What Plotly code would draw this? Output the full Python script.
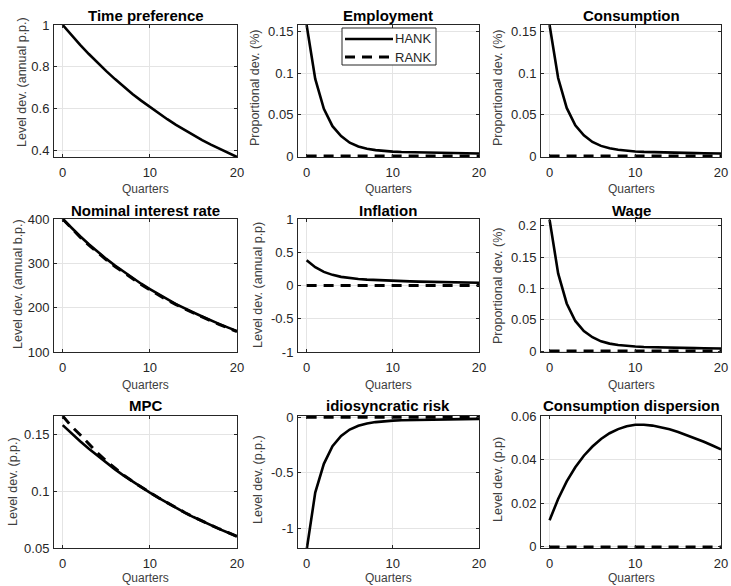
import plotly.graph_objects as go

# ---------------- data ----------------
quarters = list(range(21))

time_pref_hank = [1.000, 0.951, 0.905, 0.861, 0.819, 0.779, 0.741, 0.705, 0.670, 0.638, 0.607,
                  0.577, 0.549, 0.522, 0.497, 0.472, 0.449, 0.427, 0.407, 0.387, 0.368]

employment_hank = [0.158, 0.093, 0.057, 0.036, 0.024, 0.016, 0.0115, 0.0088, 0.0071, 0.0060, 0.0053,
                   0.0048, 0.0045, 0.0042, 0.0040, 0.0038, 0.0036, 0.0034, 0.0033, 0.0031, 0.0030]
employment_rank = [0.0] * 21

consumption_hank = [0.158, 0.094, 0.058, 0.037, 0.025, 0.017, 0.0122, 0.0093, 0.0075, 0.0063, 0.0055,
                    0.0050, 0.0046, 0.0043, 0.0041, 0.0039, 0.0037, 0.0035, 0.0034, 0.0032, 0.0031]
consumption_rank = [0.0] * 21

nominal_hank = [400, 380, 361, 343, 326, 310, 295, 281, 267, 254, 242,
                230, 219, 208, 198, 189, 180, 171, 163, 155, 147]
nominal_rank = [400, 379, 359, 341, 324, 308, 293, 279, 265, 252, 240,
                228, 217, 207, 197, 188, 179, 170, 162, 154, 146]

inflation_hank = [0.38, 0.275, 0.205, 0.160, 0.130, 0.110, 0.097, 0.088, 0.081, 0.075, 0.070,
                  0.066, 0.062, 0.059, 0.056, 0.053, 0.050, 0.048, 0.046, 0.044, 0.042]
inflation_rank = [0.0] * 21

wage_hank = [0.210, 0.124, 0.076, 0.048, 0.032, 0.022, 0.0155, 0.0118, 0.0095, 0.0080, 0.0071,
             0.0064, 0.0059, 0.0056, 0.0053, 0.0050, 0.0048, 0.0046, 0.0044, 0.0042, 0.0040]
wage_rank = [0.0] * 21

mpc_hank = [0.1580, 0.1507, 0.1438, 0.1372, 0.1309, 0.1249, 0.1191, 0.1136, 0.1084, 0.1034, 0.0987,
            0.0940, 0.0895, 0.0852, 0.0811, 0.0772, 0.0735, 0.0700, 0.0666, 0.0634, 0.0603]
mpc_rank = [0.1660, 0.1570, 0.1495, 0.1415, 0.1335, 0.1265, 0.1200, 0.1140, 0.1086, 0.1035, 0.0988,
            0.0941, 0.0896, 0.0853, 0.0812, 0.0773, 0.0736, 0.0701, 0.0667, 0.0635, 0.0602]

idio_hank = [-1.20, -0.68, -0.42, -0.26, -0.168, -0.110, -0.076, -0.055, -0.043, -0.035, -0.030,
             -0.027, -0.025, -0.023, -0.021, -0.020, -0.018, -0.017, -0.016, -0.015, -0.014]
idio_rank = [0.0] * 21

disp_hank = [0.0122, 0.0220, 0.0300, 0.0365, 0.0418, 0.0460, 0.0495, 0.0521, 0.0540, 0.0553, 0.0560,
             0.0560, 0.0556, 0.0549, 0.0539, 0.0527, 0.0513, 0.0498, 0.0482, 0.0465, 0.0447]
disp_rank = [0.0] * 21

titles = ["Time preference", "Employment", "Consumption",
          "Nominal interest rate", "Inflation", "Wage",
          "MPC", "idiosyncratic risk", "Consumption dispersion"]
y_titles = ["Level dev. (annual p.p.)", "Proportional dev. (%)", "Proportional dev. (%)",
            "Level dev. (annual b.p.)", "Level dev. (annual p.p)", "Proportional dev. (%)",
            "Level dev. (p.p.)", "Level dev. (p.p.)", "Level dev. (p.p)"]
x_title = "Quarters"
x_ticks = [0, 10, 20]
legend_names = ["HANK", "RANK"]

y_tickvals = [[0.4, 0.6, 0.8, 1], [0, 0.05, 0.1, 0.15], [0, 0.05, 0.1, 0.15],
              [100, 200, 300, 400], [-1, -0.5, 0, 0.5, 1], [0, 0.05, 0.1, 0.15, 0.2],
              [0.05, 0.1, 0.15], [-1, -0.5, 0], [0, 0.02, 0.04, 0.06]]
y_ticktext = [["0.4", "0.6", "0.8", "1"], ["0", "0.05", "0.1", "0.15"], ["0", "0.05", "0.1", "0.15"],
              ["100", "200", "300", "400"], ["-1", "-0.5", "0", "0.5", "1"],
              ["0", "0.05", "0.1", "0.15", "0.2"],
              ["0.05", "0.1", "0.15"], ["-1", "-0.5", "0"], ["0", "0.02", "0.04", "0.06"]]

hank_series = [time_pref_hank, employment_hank, consumption_hank,
               nominal_hank, inflation_hank, wage_hank,
               mpc_hank, idio_hank, disp_hank]
rank_series = [None, employment_rank, consumption_rank,
               nominal_rank, inflation_rank, wage_rank,
               mpc_rank, idio_rank, disp_rank]

# ---------------- layout / style ----------------
W, H = 731, 586
cols_px = [(54, 237), (298, 479), (541, 721)]
rows_px = [(25, 157), (219, 352), (416, 548)]
y_ranges = [[0.368, 1.0], [-0.0012, 0.158], [-0.0012, 0.158],
            [100, 400], [-1, 1], [-0.0016, 0.211],
            [0.05, 0.166], [-1.18, 0.012], [-0.0005, 0.06]]
ytitle_x_px = [22, 255, 498, 18, 258, 498, 13, 258, 498]
ytitle_y_px = [82, 88, 88, 284, 285, 286, 482, 480, 480]
title_y_px = [15, 15, 15, 210, 210, 210, 405, 405, 405]
xtitle_y_px = [189, 189, 189, 385, 385, 385, 578, 578, 578]

FONT = "Liberation Sans, Arial, Helvetica, sans-serif"
AX_COL = "#262626"
GRID_COL = "#e4e4e4"
HANK_W, RANK_W, RANK_DASH = 2.6, 3, "10px,7px"

fig = go.Figure()
annotations = []
shapes = []
layout_axes = {}

for i in range(9):
    r, c = divmod(i, 3)
    n = "" if i == 0 else str(i + 1)
    xa, ya = "x" + n, "y" + n
    x0, x1 = cols_px[c]
    y0, y1 = rows_px[r]
    layout_axes["xaxis" + n] = dict(
        domain=[x0 / W, x1 / W], anchor=ya, range=[-1, 20], automargin=False,
        tickmode="array", tickvals=x_ticks, ticktext=[str(t) for t in x_ticks],
        showline=True, mirror="ticks", linecolor=AX_COL, linewidth=1,
        ticks="inside", ticklen=3, tickcolor=AX_COL,
        showgrid=True, gridcolor=GRID_COL, gridwidth=1, zeroline=False,
        tickfont=dict(family=FONT, size=13, color=AX_COL), ticklabelstandoff=3,
    )
    layout_axes["yaxis" + n] = dict(
        domain=[1 - y1 / H, 1 - y0 / H], anchor=xa, range=y_ranges[i], automargin=False,
        tickmode="array", tickvals=y_tickvals[i], ticktext=y_ticktext[i],
        showline=True, mirror="ticks", linecolor=AX_COL, linewidth=1,
        ticks="inside", ticklen=3, tickcolor=AX_COL,
        showgrid=True, gridcolor=GRID_COL, gridwidth=1, zeroline=False,
        tickfont=dict(family=FONT, size=13, color=AX_COL), ticklabelstandoff=1,
    )
    fig.add_trace(go.Scatter(
        x=quarters, y=hank_series[i], xaxis=xa, yaxis=ya, mode="lines",
        line=dict(color="black", width=HANK_W), name=legend_names[0],
        showlegend=False, hoverinfo="skip"))
    if rank_series[i] is not None:
        fig.add_trace(go.Scatter(
            x=quarters, y=rank_series[i], xaxis=xa, yaxis=ya, mode="lines",
            line=dict(color="black", width=RANK_W, dash=RANK_DASH), name=legend_names[1],
            showlegend=False, hoverinfo="skip"))

    xc = (x0 + x1) / 2 / W
    annotations.append(dict(text=titles[i], x=xc, y=1 - title_y_px[i] / H, xref="paper", yref="paper",
                            xanchor="center", yanchor="middle", showarrow=False,
                            font=dict(family=FONT, size=15, color="black", weight="bold")))
    annotations.append(dict(text=x_title, x=xc, y=1 - xtitle_y_px[i] / H, xref="paper", yref="paper",
                            xanchor="center", yanchor="middle", showarrow=False,
                            font=dict(family=FONT, size=12, color="#404040")))
    annotations.append(dict(text=y_titles[i], x=ytitle_x_px[i] / W, y=1 - ytitle_y_px[i] / H,
                            xref="paper", yref="paper", xanchor="center", yanchor="middle",
                            textangle=-90, showarrow=False,
                            font=dict(family=FONT, size=12.5, color="#404040")))

# legend box (in the Employment panel), drawn as a key
LB = dict(x0=342, x1=436, y0=28, y1=65)
shapes.append(dict(type="rect", xref="paper", yref="paper",
                   x0=LB["x0"] / W, x1=LB["x1"] / W, y0=1 - LB["y1"] / H, y1=1 - LB["y0"] / H,
                   fillcolor="white", line=dict(color=AX_COL, width=1), layer="above"))
key_rows = [(39, dict(color="black", width=HANK_W)),
            (57, dict(color="black", width=RANK_W, dash=RANK_DASH))]
for (ky, lstyle), name in zip(key_rows, legend_names):
    shapes.append(dict(type="line", xref="paper", yref="paper",
                       x0=345 / W, x1=393 / W, y0=1 - ky / H, y1=1 - ky / H,
                       line=lstyle, layer="above"))
    annotations.append(dict(text=name, x=393 / W, y=1 - ky / H, xref="paper", yref="paper",
                            xanchor="left", yanchor="middle", showarrow=False,
                            font=dict(family=FONT, size=13, color=AX_COL)))

fig.update_layout(
    template="none",
    width=W, height=H, margin=dict(l=0, r=0, t=0, b=0, pad=0, autoexpand=False),
    paper_bgcolor="white", plot_bgcolor="white",
    font=dict(family=FONT, color=AX_COL),
    annotations=annotations, shapes=shapes,
    showlegend=False,
    **layout_axes,
)

fig.write_html("out.html", config={"displayModeBar": False},
               post_script="document.body.style.margin='0';"
                           "document.documentElement.style.overflow='hidden';"
                           "document.body.style.overflow='hidden';")
